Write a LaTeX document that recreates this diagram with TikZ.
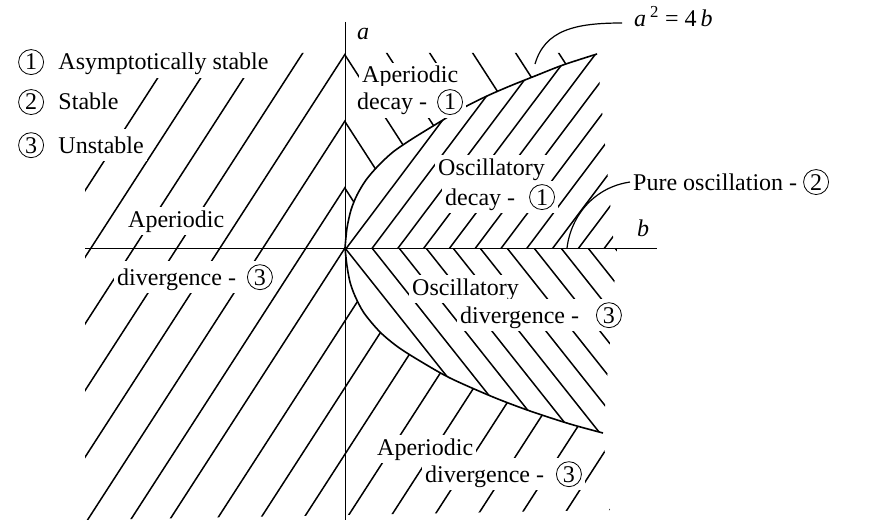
\documentclass[tikz,border=0pt]{standalone}
\usepackage{fontspec}
\setmainfont{Liberation Serif}
\newcommand{\cnum}[1]{\tikz[baseline=(cn.base)]{\node[draw,circle,line width=0.8pt,inner sep=0pt,minimum size=25pt,anchor=center] (cn) at (0,0) {#1};}}
\begin{document}
\begin{tikzpicture}[x=1pt,y=-1pt,
  hatch/.style={line width=1.5pt},
  axisline/.style={line width=1pt},
  curveline/.style={line width=1.6pt},
  leader/.style={line width=1.2pt},
  lbl/.style={fill=white,inner sep=3pt,anchor=base west,font=\fontsize{24}{28}\selectfont},
  plain/.style={inner sep=1pt,anchor=base west,font=\fontsize{24}{28}\selectfont}]
\fill[white] (0,0) rectangle (874,524);
\useasboundingbox (0,0) rectangle (874,524);

% R1: "/" hatching, left half-plane and below the lower branch
\begin{scope}
\clip (150,53) -- (345,53) -- (345,248) -- plot[smooth] coordinates {(345,248) (347,266) (350,282) (355,296) (364,313) (380,332) (398,347) (420,361) (450,378) (493,397) (530,411) (570,424) (603,433)} -- (610,510) -- (85,520) -- (85,180) -- cycle;
\foreach \xb in {48,91,134,177,220,263,306,345,392,435,478,521,564,607,650,693,736,779}
  \draw[hatch] ({\xb-188.4},540) -- ({\xb+134.2},40);
\end{scope}

% R2: "/" hatching, oscillatory decay
\begin{scope}
\clip (345,248) -- (614,248) -- (597,53) -- plot[smooth] coordinates {(597,54) (563,65) (535,76) (510,86) (487,96) (463,108) (438,123) (412,139) (393,152) (378,166) (366,180) (357,195) (351,210) (347,228) (345,248)} -- cycle;
\foreach \k in {0,...,10}
  \draw[hatch] ({345+25.8*\k},250) -- ({345+25.8*\k+150},{250-1.33*150});
\end{scope}

% R3: "\" hatching, aperiodic decay
\begin{scope}
\clip (345,248) -- plot[smooth] coordinates {(345,248) (347,228) (351,210) (357,195) (366,180) (378,166) (393,152) (412,139) (438,123) (463,108) (487,96) (510,86) (535,76) (563,65) (597,54)} -- (597,53) -- (345,53) -- cycle;
\foreach \k in {-2,...,6}
  \draw[hatch] ({345+43*\k-9.7},40) -- ({345+43*\k+135},{55+1.55*135});
\end{scope}

% R4: "\" hatching, oscillatory divergence
\begin{scope}
\clip (345,248) -- (617,248) -- (603,433) -- plot[smooth] coordinates {(603,433) (570,424) (530,411) (493,397) (450,378) (420,361) (398,347) (380,332) (364,313) (355,296) (350,282) (347,266) (345,248)} -- cycle;
\foreach \k in {0,...,10}
  \draw[hatch] ({345+27*\k-5},{248-6.3}) -- ({345+27*\k+160},{248+1.26*160});
\end{scope}

% parabola branches
\draw[curveline] plot[smooth] coordinates {(345,248) (347,228) (351,210) (357,195) (366,180) (378,166) (393,152) (412,139) (438,123) (463,108) (487,96) (510,86) (535,76) (563,65) (597,54)};
\draw[curveline] plot[smooth] coordinates {(345,248) (347,266) (350,282) (355,296) (364,313) (380,332) (398,347) (420,361) (450,378) (493,397) (530,411) (570,424) (603,433)};

% axes
\coordinate (aTop) at (345,22);
\coordinate (aBot) at (345,520);
\coordinate (bLeft) at (85,248);
\coordinate (bRight) at (657,248);
\draw[axisline] (aTop) -- (aBot);
\draw[axisline] (bLeft) -- (bRight);
\node[plain] (alab) at (356,40) {\textit{a}};
\node[plain] (blab) at (636,236) {\textit{b}};

% legend
\node[lbl] (leg1) at (15,70) {\cnum{1}\hspace{14.5pt}Asymptotically stable};
\node[lbl] (leg2) at (15,110) {\cnum{2}\hspace{14.5pt}Stable};
\node[lbl] (leg3) at (15,153) {\cnum{3}\hspace{14.5pt}Unstable};

% region labels
\node[lbl] (apL) at (125,227) {Aperiodic};
\node[lbl] (dvL) at (114,285) {divergence -\hspace{11pt}\cnum{3}};
\node[lbl] (apU) at (359,83) {Aperiodic};
\node[lbl] (dcU) at (354,110) {decay -\hspace{10pt}\cnum{1}};
\node[lbl] (osU) at (435,175) {Oscillatory};
\node[lbl] (dcO) at (442,205) {decay -\hspace{14pt}\cnum{1}};
\node[lbl] (osL) at (409,295) {Oscillatory};
\node[lbl] (dvR) at (457,323) {divergence -\hspace{17pt}\cnum{3}};
\node[lbl] (apB) at (374,455) {Aperiodic};
\node[lbl] (dvB) at (422,482) {divergence -\hspace{12pt}\cnum{3}};

% leaders
\node[lbl] (pure) at (630,190) {Pure oscillation -\hspace{6pt}\cnum{2}};
\coordinate (pureTip) at (567,248);
\draw[leader] (pure.west) .. controls (595,187) and (571,215) .. (pureTip);

\node[plain] (eq) at (633,27) {\textit{a}\,\textsuperscript{2} = 4\,\textit{b}};
\coordinate (eqTip) at (535,64);
\coordinate (eqEnd) at (622,23);
\draw[leader] (eqTip) .. controls (545,30) and (575,23) .. (eqEnd);
\end{tikzpicture}
\end{document}
